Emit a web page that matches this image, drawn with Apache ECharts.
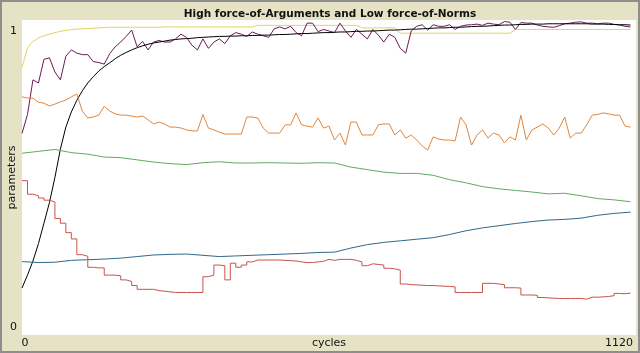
<!DOCTYPE html>
<html>
<head>
<meta charset="utf-8">
<script src="https://cdn.jsdelivr.net/npm/echarts@6/dist/echarts.min.js"></script>
<style>
html,body{margin:0;padding:0;background:#e6e2c6;}
#chart{width:640px;height:353px;}
</style>
</head>
<body>
<div id="chart"></div>
<script>
// ---- data ----
const title = "High force-of-Arguments and Low force-of-Norms";
const xName = "cycles";
const yName = "parameters";
const xTicks = [0, 1120];
const yTicks = [0, 1];

const fineStep = 10;   // cycles between samples of the fine series
const coarseStep = 30; // cycles between samples of the coarse series

const yellow = [0.850,0.912,0.932,0.943,0.950,0.955,0.960,0.964,0.967,0.969,
0.971,0.972,0.973,0.974,0.975,0.976,0.977,
0.977,0.977,0.977,0.977,0.977,0.977,0.977,0.977,0.977,
0.978,0.978,0.978,0.978,0.978,0.978,0.978,0.978,0.978,0.978,0.978,0.978,0.978,0.978,0.978,0.978,0.978,
0.983,0.983,0.983,0.983,0.983,0.983,0.983,0.983,0.983,0.983,0.983,0.983,0.983,0.983,0.983,0.983,0.983,0.983,0.983,
0.975,0.975,0.975,0.975,0.975,0.975,0.975,
0.958,0.958,0.958,0.958,0.958,0.958,0.958,0.958,0.958,0.958,0.958,0.958,0.958,0.958,0.958,0.958,0.958,0.958,0.958,0.958,0.958,
0.970,0.970,0.970,0.970,0.970,0.970,0.970,0.970,0.970,0.970,0.970,0.970,0.970,0.970,0.970,0.970,0.970,0.970,0.970,0.970,0.970,0.970];

const purple = [0.640,0.700,0.810,0.800,0.875,0.880,0.835,0.810,0.885,0.905,
0.895,0.890,0.890,0.868,0.865,0.860,0.893,0.915,0.930,0.948,
0.968,0.915,0.932,0.905,0.930,0.935,0.930,0.930,0.940,0.955,
0.945,0.920,0.905,0.940,0.910,0.930,0.940,0.925,0.950,0.960,
0.955,0.948,0.962,0.955,0.950,0.945,0.972,0.978,0.972,0.980,
0.960,0.950,0.990,0.990,0.963,0.970,0.965,0.960,0.990,0.965,
0.945,0.970,0.955,0.940,0.970,0.952,0.930,0.955,0.945,0.910,
0.895,0.965,0.980,0.985,0.968,0.985,0.980,0.980,0.985,0.970,
0.980,0.984,0.985,0.987,0.983,0.990,0.987,0.985,0.995,0.993,
0.970,0.992,0.990,0.990,0.984,0.980,0.978,0.977,0.982,0.988,
0.990,0.993,0.994,0.990,0.990,0.988,0.990,0.990,0.986,0.984,
0.980,0.978];

const black = [0.149,0.190,0.235,0.290,0.355,0.420,0.500,0.590,0.660,0.708,
0.745,0.775,0.800,0.820,0.838,0.852,0.864,0.877,0.888,0.897,
0.905,0.912,0.918,0.923,0.927,0.930,0.933,0.936,0.938,0.940,
0.941,0.942,0.944,0.945,0.946,0.947,
0.948,0.948,0.949,0.949,0.950,
0.950,0.951,0.951,0.952,0.952,
0.953,0.954,0.954,0.955,0.956,
0.957,0.957,0.958,0.959,0.960,
0.960,0.961,0.962,0.962,0.963,
0.964,0.964,0.965,0.965,0.966,
0.967,0.968,0.968,0.969,0.970,
0.971,0.971,0.972,0.973,0.974,
0.975,0.975,0.976,0.977,0.977,
0.978,0.979,0.980,0.980,0.981,
0.982,0.983,0.984,0.984,0.985,
0.986,0.986,0.987,0.987,0.987,
0.988,0.988,0.988,0.988,0.988,
0.988,0.988,0.988,0.987,0.987,
0.987,0.986,0.986,0.985,0.985,0.984];

const orange = [0.756,0.752,0.752,0.739,0.736,0.727,0.733,0.740,0.746,0.756,
0.765,0.711,0.689,0.692,0.698,0.726,0.711,0.702,0.698,0.698,
0.695,0.692,0.695,0.683,0.670,0.676,0.670,0.660,0.660,0.657,
0.651,0.648,0.648,0.700,0.657,0.651,0.644,0.638,0.638,0.638,
0.638,0.692,0.692,0.689,0.657,0.641,0.641,0.641,0.667,0.667,
0.705,0.667,0.663,0.660,0.689,0.657,0.663,0.619,0.641,0.603,
0.676,0.676,0.635,0.635,0.635,0.667,0.670,0.670,0.635,0.651,
0.625,0.635,0.619,0.600,0.587,0.629,0.622,0.619,0.619,0.616,
0.692,0.667,0.603,0.635,0.651,0.625,0.641,0.635,0.610,0.629,
0.619,0.698,0.619,0.651,0.660,0.670,0.657,0.635,0.657,0.692,
0.625,0.641,0.641,0.667,0.698,0.700,0.705,0.702,0.698,0.698,
0.663,0.660];

const red = [0.490,0.447,0.442,0.435,0.428,0.422,0.370,0.355,0.325,0.305,
0.255,0.250,0.215,0.213,0.213,0.190,0.190,0.188,0.175,0.170,
0.157,0.145,0.145,0.145,0.141,0.139,0.137,0.135,0.135,0.135,
0.135,0.135,0.135,0.185,0.190,0.222,0.220,0.175,0.228,0.215,
0.222,0.232,0.238,0.238,0.238,0.238,0.238,0.237,0.236,0.235,
0.232,0.230,0.230,0.232,0.234,0.240,0.237,0.240,0.240,0.240,
0.237,0.232,0.220,0.226,0.224,0.222,0.212,0.210,0.206,0.162,
0.160,0.159,0.158,0.157,0.157,0.156,0.155,0.154,0.153,0.135,
0.135,0.135,0.135,0.135,0.164,0.164,0.162,0.160,0.150,0.150,
0.149,0.127,0.127,0.126,0.119,0.118,0.117,0.116,0.116,0.116,
0.116,0.116,0.114,0.120,0.120,0.121,0.122,0.125,0.132,0.131,
0.133,0.133];

const green = [0.577,0.583,0.589,0.579,0.574,0.565,0.563,0.556,0.549,0.544,
0.541,0.547,0.550,0.546,0.546,0.547,0.546,0.545,0.547,0.546,
0.533,0.525,0.517,0.513,0.513,0.507,0.493,0.483,0.471,0.464,
0.459,0.454,0.448,0.450,0.442,0.433,0.429,0.423];

const blue = [0.233,0.230,0.231,0.237,0.239,0.241,0.244,0.249,0.254,0.256,
0.257,0.253,0.249,0.251,0.253,0.255,0.257,0.259,0.262,0.263,
0.276,0.287,0.294,0.299,0.304,0.309,0.319,0.331,0.340,0.347,
0.354,0.360,0.365,0.367,0.371,0.380,0.386,0.390];

// ---- build ----
function pairs(vals, step){ return vals.map((v,i)=>[i*step, v]); }

const seriesDefs = [
  {name:'yellow', data:yellow, step:fineStep, color:'#e3d35e'},
  {name:'purple', data:purple, step:fineStep, color:'#6b1a55'},
  {name:'black',  data:black,  step:fineStep, color:'#000000'},
  {name:'orange', data:orange, step:fineStep, color:'#e2873c'},
  {name:'green',  data:green,  step:coarseStep, color:'#62aa60'},
  {name:'blue',   data:blue,   step:coarseStep, color:'#31688a'},
  {name:'red',    data:red,    step:fineStep, color:'#c8534b', stepMode:'end'}
];

const FONT = 'DejaVu Sans';
const chart = echarts.init(document.getElementById('chart'), null, {renderer:'canvas'});
chart.setOption({
  animation:false,
  backgroundColor:'#e6e2c6',
  title:{
    text:title, left:325, top:4, textAlign:'center',
    textStyle:{fontFamily:FONT, fontSize:10.5, fontWeight:'bold', color:'#111'}
  },
  grid:{left:22, right:4, top:20, bottom:18, show:true, backgroundColor:'#ffffff', borderWidth:0,
        containLabel:false, outerBoundsMode:'none'},
  xAxis:{
    type:'value', min:xTicks[0], max:xTicks[1], interval:xTicks[1]-xTicks[0],
    name:xName, nameLocation:'middle', nameGap:3, nameMoveOverlap:false,
    nameTextStyle:{fontFamily:FONT, fontSize:11, color:'#111', verticalAlign:'top'},
    axisLine:{show:false}, axisTick:{show:false}, splitLine:{show:false},
    axisLabel:{
      margin:3, fontFamily:FONT, fontSize:11, color:'#111',
      formatter:function(v){ return v===xTicks[0] ? '{l|'+v+'}' : '{r|'+v+'}'; },
      rich:{ l:{padding:[0,0,0,6], fontFamily:FONT, fontSize:11, color:'#111'},
             r:{padding:[0,34,0,0], fontFamily:FONT, fontSize:11, color:'#111'} }
    }
  },
  yAxis:{
    type:'value', min:yTicks[0], max:yTicks[1], interval:yTicks[1]-yTicks[0],
    name:yName, nameLocation:'middle', nameGap:4, nameMoveOverlap:false,
    nameTextStyle:{fontFamily:FONT, fontSize:11, color:'#111'},
    axisLine:{show:false}, axisTick:{show:false}, splitLine:{show:false},
    axisLabel:{
      margin:5, fontFamily:FONT, fontSize:11, color:'#111',
      formatter:function(v){ return v===yTicks[1] ? '{t|'+v+'}' : '{b|'+v+'}'; },
      rich:{ t:{padding:[23,0,0,0], fontFamily:FONT, fontSize:11, color:'#111'},
             b:{padding:[0,0,16,0], fontFamily:FONT, fontSize:11, color:'#111'} }
    }
  },
  graphic:[{type:'rect', silent:true, z:100,
    shape:{x:1, y:1, width:638, height:351},
    style:{fill:'none', stroke:'#8e8e8e', lineWidth:2}}],
  series: seriesDefs.map(s=>({
    type:'line', name:s.name, data:pairs(s.data, s.step),
    showSymbol:false, symbol:'none', step:s.stepMode || false,
    lineStyle:{width:1, color:s.color}, itemStyle:{color:s.color},
    emphasis:{disabled:true}
  }))
});
</script>
</body>
</html>
